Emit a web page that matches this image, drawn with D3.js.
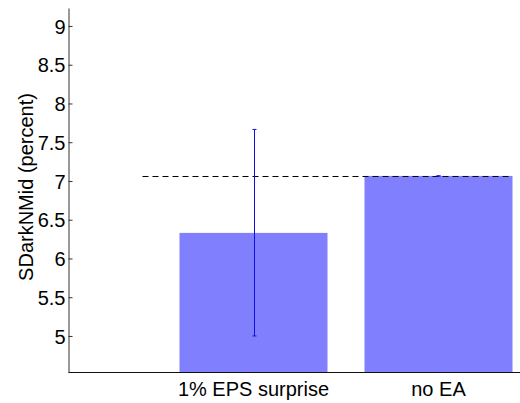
<!DOCTYPE html>
<html>
<head>
<meta charset="utf-8">
<script src="https://cdn.jsdelivr.net/npm/d3@7"></script>
<style>
body { margin: 0; background: #fff; }
text { font-family: "Liberation Sans", Arial, sans-serif; }
</style>
</head>
<body>
<div id="chart"></div>
<script>
// data
var categories = ["1% EPS surprise", "no EA"];
var values = [6.33, 7.065];
var errLow = [5.0, 7.065];
var errHigh = [7.665, 7.065];
var refValue = 7.065;
var yTicks = [5, 5.5, 6, 6.5, 7, 7.5, 8, 8.5, 9];

var width = 520, height = 403;

var svg = d3.select("#chart").append("svg")
		.attr("width", width)
		.attr("height", height);

// bar positions 1..n, axis starts at 0
var x = d3.scaleLinear().domain([0, 3]).range([68.5, 68.5 + 555]);
var y = d3.scaleLinear().domain([4.535, 9.232]).range([372, 8]);
var barW = 0.8;

// bars
svg.selectAll("rect.bar")
		.data(values)
		.enter().append("rect")
		.attr("class", "bar")
		.attr("x", function(d, i) { return x(i + 1 - barW / 2); })
		.attr("width", function() { return x(barW) - x(0); })
		.attr("y", function(d) { return y(d); })
		.attr("height", function(d) { return y.range()[0] - y(d); })
		.style("fill", "#8080ff");

// reference dashed line
svg.append("line")
		.attr("x1", x(0.4)).attr("x2", x(2.4))
		.attr("y1", Math.round(y(refValue)) + 0.5).attr("y2", Math.round(y(refValue)) + 0.5)
		.style("stroke", "#000")
		.style("stroke-width", 1)
		.style("stroke-dasharray", "6,4");

// error bars
var eb = svg.selectAll("g.err")
		.data(values)
		.enter().append("g")
		.attr("class", "err");
eb.append("line")
		.attr("x1", function(d, i) { return Math.round(x(i + 1)) + 0.5; })
		.attr("x2", function(d, i) { return Math.round(x(i + 1)) + 0.5; })
		.attr("y1", function(d, i) { return y(errLow[i]); })
		.attr("y2", function(d, i) { return y(errHigh[i]); })
		.style("stroke", "#1010e0");
["low", "high"].forEach(function(k) {
	eb.append("line")
			.attr("x1", function(d, i) { return Math.round(x(i + 1)) - 1.5; })
			.attr("x2", function(d, i) { return Math.round(x(i + 1)) + 2.5; })
			.attr("y1", function(d, i) { return y(k == "low" ? errLow[i] : errHigh[i]); })
			.attr("y2", function(d, i) { return y(k == "low" ? errLow[i] : errHigh[i]); })
			.style("stroke", "#1010e0");
});

// y axis
var yAxis = d3.axisLeft(y)
		.tickValues(yTicks)
		.tickSizeInner(-4)
		.tickSizeOuter(0)
		.tickPadding(6)
		.tickFormat(function(d) { return d; });
var gy = svg.append("g")
		.attr("transform", "translate(68.5,0)")
		.call(yAxis);
gy.selectAll("text").style("font-size", "20px").attr("fill", "#000")
		.attr("x", -3).attr("dy", "0.36em");
gy.select(".domain").style("stroke", "#333");
gy.selectAll(".tick line").style("stroke", "#333");

// x axis
var gx = svg.append("g")
		.attr("transform", "translate(0,372.5)");
gx.append("line")
		.attr("x1", 68.5).attr("x2", width)
		.style("stroke", "#111");
gx.selectAll("text")
		.data(categories)
		.enter().append("text")
		.attr("x", function(d, i) { return x(i + 1); })
		.attr("y", 23.5)
		.attr("text-anchor", "middle")
		.style("font-size", "20px")
		.text(function(d) { return d; });

// y label
svg.append("text")
		.attr("transform", "translate(33,187) rotate(-90)")
		.attr("text-anchor", "middle")
		.style("font-size", "20px")
		.text("SDarkNMid (percent)");
</script>
</body>
</html>
